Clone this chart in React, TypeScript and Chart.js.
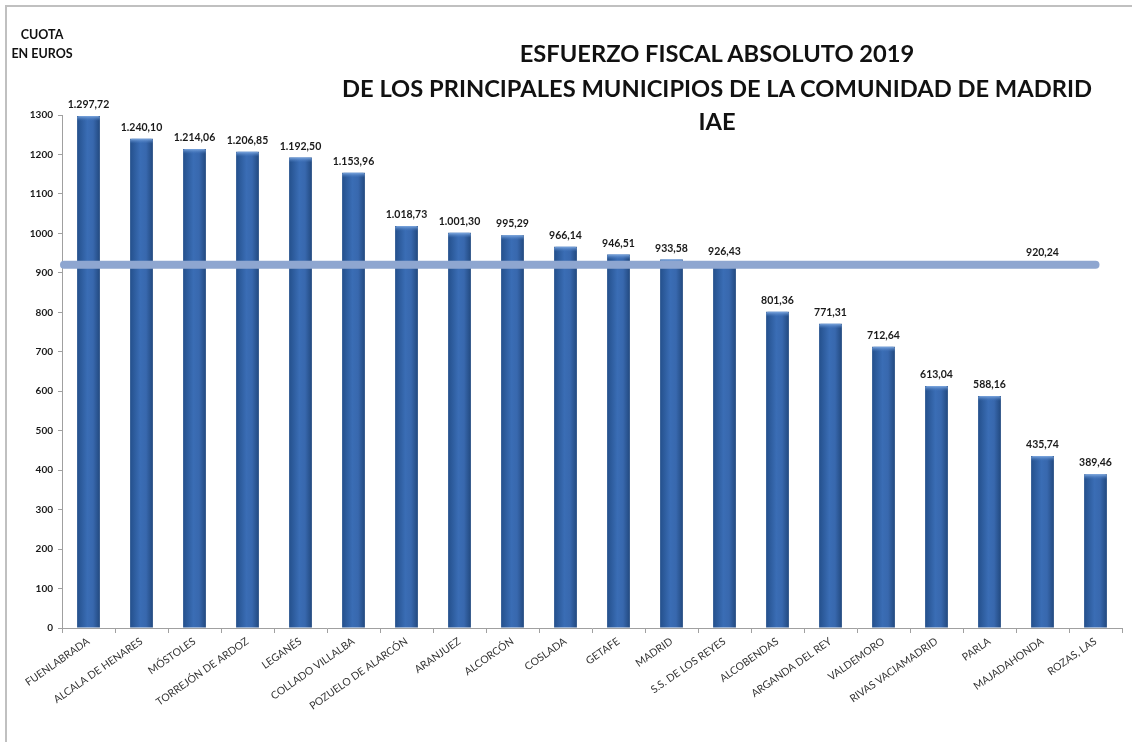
import React, { useEffect, useRef } from "react";
import { Chart, registerables } from "chart.js";

Chart.register(...registerables);

const municipios: string[] = [
  "FUENLABRADA",
  "ALCALA DE HENARES",
  "MÓSTOLES",
  "TORREJÓN DE ARDOZ",
  "LEGANÉS",
  "COLLADO VILLALBA",
  "POZUELO DE ALARCÓN",
  "ARANJUEZ",
  "ALCORCÓN",
  "COSLADA",
  "GETAFE",
  "MADRID",
  "S.S. DE LOS REYES",
  "ALCOBENDAS",
  "ARGANDA DEL REY",
  "VALDEMORO",
  "RIVAS VACIAMADRID",
  "PARLA",
  "MAJADAHONDA",
  "ROZAS, LAS",
];

const cuotas: number[] = [
  1297.72, 1240.1, 1214.06, 1206.85, 1192.5, 1153.96, 1018.73, 1001.3, 995.29,
  966.14, 946.51, 933.58, 926.43, 801.36, 771.31, 712.64, 613.04, 588.16,
  435.74, 389.46,
];

const media = 920.24;
const mediaLabelIndex = 18;

const titleLines: string[] = [
  "ESFUERZO FISCAL ABSOLUTO 2019",
  "DE LOS PRINCIPALES MUNICIPIOS DE LA COMUNIDAD DE MADRID",
  "IAE",
];

function fmt(v: number): string {
  const [i, d] = v.toFixed(2).split(".");
  return i.replace(/\B(?=(\d{3})+(?!\d))/g, ".") + "," + d;
}

const BAR_PCT = 0.43;

export default function App() {
  const ref = useRef<HTMLCanvasElement | null>(null);

  useEffect(() => {
    document.body.style.margin = "0";
    const canvas = ref.current;
    if (!canvas) return;

    const labelsPlugin = {
      id: "labelsPlugin",
      afterDatasetsDraw(chart: any) {
        const ctx = chart.ctx;
        const meta = chart.getDatasetMeta(0);
        const x = chart.scales.x;
        const y = chart.scales.y;
        ctx.save();
        // bar top caps
        meta.data.forEach((bar: any) => {
          const w = bar.width;
          const left = bar.x - w / 2;
          if (!isFinite(left) || !isFinite(bar.y)) return;
          const g = ctx.createLinearGradient(0, bar.y, 0, bar.y + 5);
          g.addColorStop(0, "#7fa9e0");
          g.addColorStop(1, "rgba(70,120,190,0)");
          ctx.fillStyle = g;
          ctx.beginPath();
          ctx.moveTo(left, bar.y + 5);
          ctx.lineTo(left, bar.y + 1.5);
          ctx.quadraticCurveTo(left, bar.y, left + 2, bar.y);
          ctx.lineTo(left + w - 2, bar.y);
          ctx.quadraticCurveTo(left + w, bar.y, left + w, bar.y + 1.5);
          ctx.lineTo(left + w, bar.y + 5);
          ctx.closePath();
          ctx.fill();
        });
        // average line
        const yy = y.getPixelForValue(media);
        const xEnd = x.getPixelForValue(municipios.length - 1);
        ctx.strokeStyle = "#8ea6d0";
        ctx.lineWidth = 8;
        ctx.lineCap = "round";
        ctx.beginPath();
        ctx.moveTo(chart.chartArea.left + 2, yy);
        ctx.lineTo(xEnd, yy);
        ctx.stroke();
        // value labels
        ctx.fillStyle = "#1a1a1a";
        ctx.font = "bold 10.5px Lato";
        ctx.textAlign = "center";
        ctx.textBaseline = "bottom";
        meta.data.forEach((bar: any, i: number) => {
          ctx.fillText(fmt(cuotas[i]), bar.x, bar.y - 6);
        });
        ctx.fillText(fmt(media), x.getPixelForValue(mediaLabelIndex), yy - 7);
        ctx.restore();
      },
    };

    const chart = new Chart(canvas, {
      type: "bar",
      data: {
        labels: municipios,
        datasets: [
          {
            data: cuotas,
            backgroundColor: (c: any) => {
              const ch = c.chart;
              const xs = ch.scales && ch.scales.x;
              if (!xs || c.dataIndex === undefined) return "#3566ad";
              const cx = xs.getPixelForValue(c.dataIndex);
              const w = ((xs.right - xs.left) / municipios.length) * BAR_PCT;
              if (!isFinite(cx) || !isFinite(w) || w <= 0) return "#3566ad";
              const g = ch.ctx.createLinearGradient(cx - w / 2, 0, cx + w / 2, 0);
              g.addColorStop(0, "#24508c");
              g.addColorStop(0.45, "#3a6db5");
              g.addColorStop(0.7, "#3868ae");
              g.addColorStop(1, "#22497f");
              return g;
            },
            borderWidth: 0,
            categoryPercentage: 1,
            barPercentage: BAR_PCT,
          },
        ],
      },
      options: {
        animation: false,
        responsive: false,
        maintainAspectRatio: false,
        events: [],
        layout: { padding: { left: 0, top: 115, right: 10, bottom: 0 } },
        plugins: {
          legend: { display: false },
          tooltip: { enabled: false },
          title: { display: false },
        },
        scales: {
          x: {
            afterFit: (s: any) => {
              s.height = 742 - 628;
            },
            grid: {
              offset: true,
              drawOnChartArea: false,
              tickLength: 5,
              color: "#a0a0a0",
            },
            border: { color: "#a0a0a0" },
            ticks: {
              minRotation: 35,
              maxRotation: 35,
              autoSkip: false,
              color: "#333",
              font: { family: "Lato", size: 10.5 },
              padding: 2,
            },
          },
          y: {
            min: 0,
            max: 1300,
            afterFit: (s: any) => {
              s.width = 62;
            },
            grid: {
              drawOnChartArea: false,
              tickLength: 4,
              color: "#a0a0a0",
            },
            border: { color: "#a0a0a0" },
            ticks: {
              stepSize: 100,
              color: "#1a1a1a",
              font: { family: "Lato", size: 10, weight: "bold" },
              padding: 5,
              callback: (v: any) => String(v),
            },
          },
        },
      },
      plugins: [labelsPlugin],
    });

    return () => chart.destroy();
  }, []);

  const titleStyle: React.CSSProperties = {
    position: "absolute",
    left: 267,
    width: 900,
    textAlign: "center",
    fontFamily: "Lato",
    fontWeight: "bold",
    fontSize: 23.7,
    color: "#111",
    lineHeight: "26px",
    whiteSpace: "nowrap",
  };

  return (
    <div
      style={{
        position: "absolute",
        left: 0,
        top: 0,
        width: 1132,
        height: 742,
        background: "#fff",
        overflow: "hidden",
      }}
    >
      <div
        style={{
          position: "absolute",
          left: 5,
          top: 5,
          width: 1140,
          height: 800,
          border: "2px solid #c0c0c0",
          boxSizing: "border-box",
        }}
      />
      <canvas ref={ref} width={1132} height={742} style={{ position: "absolute", left: 0, top: 0 }} />
      <div
        style={{
          position: "absolute",
          left: 0,
          top: 25,
          width: 84,
          textAlign: "center",
          fontFamily: "Lato",
          fontWeight: "bold",
          fontSize: 12.5,
          lineHeight: "19px",
          color: "#111",
        }}
      >
        CUOTA
        <br />
        EN EUROS
      </div>
      <div style={{ ...titleStyle, top: 40 }}>{titleLines[0]}</div>
      <div style={{ ...titleStyle, top: 75 }}>{titleLines[1]}</div>
      <div style={{ ...titleStyle, top: 108 }}>{titleLines[2]}</div>
    </div>
  );
}
